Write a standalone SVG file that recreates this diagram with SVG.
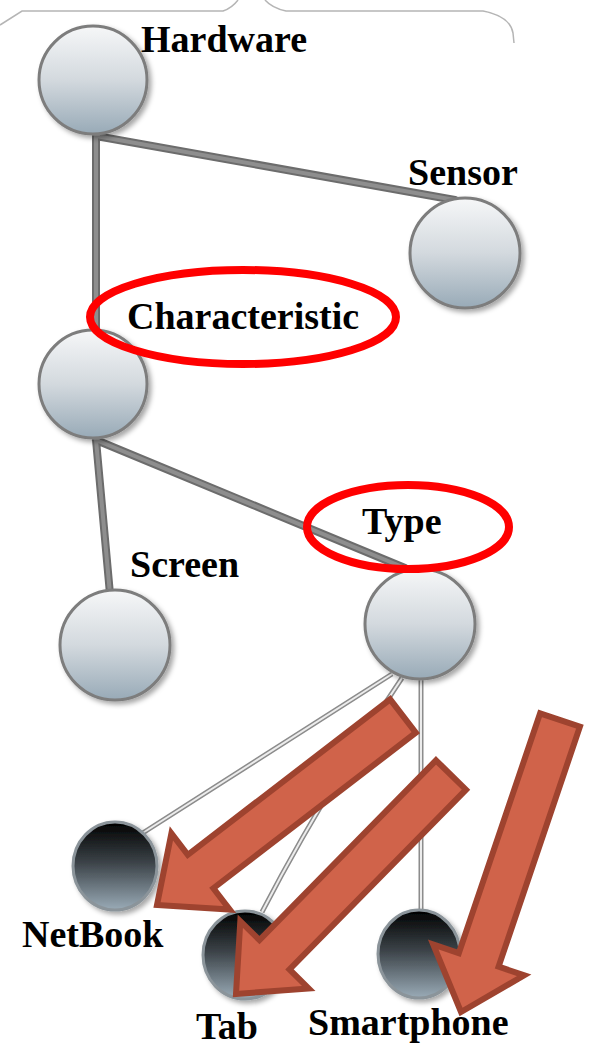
<svg xmlns="http://www.w3.org/2000/svg" width="589" height="1045" viewBox="0 0 589 1045">
  <defs>
    <linearGradient id="gLight" x1="0" y1="0" x2="0" y2="1">
      <stop offset="0" stop-color="#f6f7f8"/>
      <stop offset="0.5" stop-color="#d3d9de"/>
      <stop offset="1" stop-color="#98aab7"/>
    </linearGradient>
    <linearGradient id="gDark" x1="0" y1="0" x2="0" y2="1">
      <stop offset="0" stop-color="#000000"/>
      <stop offset="0.45" stop-color="#3a4146"/>
      <stop offset="1" stop-color="#9aabb7"/>
    </linearGradient>
    <filter id="shadow" x="-20%" y="-20%" width="150%" height="150%">
      <feDropShadow dx="3" dy="3" stdDeviation="2.5" flood-color="#000" flood-opacity="0.35"/>
    </filter>
  </defs>
  <style>
    .light { fill: url(#gLight); stroke: #7d7d7d; stroke-width: 3; filter: url(#shadow); }
    .dark { fill: url(#gDark); stroke: #8b949a; stroke-width: 3; filter: url(#shadow); }
    .label { font-family: "Liberation Serif", "Times New Roman", serif; font-weight: bold; font-size: 38px; fill: #000; }
    .thickOut { stroke: #6c6c6c; stroke-width: 8; fill: none; stroke-linecap: round; }
    .thickIn { stroke: #8e8e8e; stroke-width: 4; fill: none; stroke-linecap: round; }
    .thinOut { stroke: #8c8c8c; stroke-width: 5; fill: none; }
    .thinIn { stroke: #ececec; stroke-width: 2; fill: none; }
    .mark { fill: none; stroke: #ff0000; stroke-width: 8; }
    .arrow { fill: #d0634a; stroke: #9e432f; stroke-width: 6; stroke-linejoin: miter; }
    .frame { fill: none; stroke: #b5b5b5; stroke-width: 1.5; }
  </style>

  <!-- frame edge along the top -->
  <path class="frame" d="M0,25 L22,11 L223,11 Q232,8 238,0"/>
  <path class="frame" d="M265,0 Q272,8 286,11 L483,11 Q510,16 513,33 L514,43"/>

  <!-- connectors -->
  <g id="connectors">
    <path class="thickOut" d="M96,136 L455,200 M96,136 L96,332 M96,440 L110,594 M96,440 L405,568"/>
    <path class="thickIn" d="M96,136 L455,200 M96,136 L96,332 M96,440 L110,594 M96,440 L405,568"/>
    <path class="thinOut" d="M392,674 L138,836 M402,678 Q320,800 262,912 M421,680 L421,912"/>
    <path class="thinIn" d="M392,674 L138,836 M402,678 Q320,800 262,912 M421,680 L421,912"/>
  </g>

  <!-- nodes -->
  <g id="node-hardware">
    <circle class="light" cx="93" cy="80" r="54"/>
    <text class="label" x="141" y="52">Hardware</text>
  </g>
  <g id="node-sensor">
    <circle class="light" cx="465" cy="253" r="55"/>
    <text class="label" x="408" y="185">Sensor</text>
  </g>
  <g id="node-characteristic">
    <circle class="light" cx="93" cy="384" r="54"/>
    <text class="label" x="127" y="329">Characteristic</text>
    <ellipse class="mark" cx="243" cy="317" rx="153" ry="47"/>
  </g>
  <g id="node-screen">
    <circle class="light" cx="115" cy="645" r="55"/>
    <text class="label" x="130" y="577">Screen</text>
  </g>
  <g id="node-type">
    <circle class="light" cx="420" cy="624" r="55"/>
    <text class="label" x="362" y="534">Type</text>
    <ellipse class="mark" cx="408" cy="527" rx="101" ry="42"/>
  </g>
  <g id="node-netbook">
    <ellipse class="dark" cx="115" cy="866" rx="42" ry="44"/>
    <text class="label" x="22" y="947">NetBook</text>
  </g>
  <g id="node-tab">
    <ellipse class="dark" cx="245" cy="955" rx="42" ry="44"/>
    <text class="label" x="196" y="1039">Tab</text>
  </g>
  <g id="node-smartphone">
    <ellipse class="dark" cx="419" cy="954" rx="41" ry="44"/>
    <text class="label" x="308" y="1035">Smartphone</text>
  </g>

  <!-- block arrows -->
  <g id="arrows">
    <polygon class="arrow" points="390.2,699.3 415.8,732.7 213.4,888.2 229.8,909.6 157,905 171.4,833.4 187.8,854.8"/>
    <polygon class="arrow" points="436.0,760.3 466.0,789.7 289.5,969.5 308.7,988.4 236,994 240.3,921.2 259.5,940.1"/>
    <polygon class="arrow" points="540.1,713.3 579.9,726.7 498.6,966.6 524.2,975.3 461,1012 433.2,944.5 458.8,953.2"/>
  </g>
</svg>
